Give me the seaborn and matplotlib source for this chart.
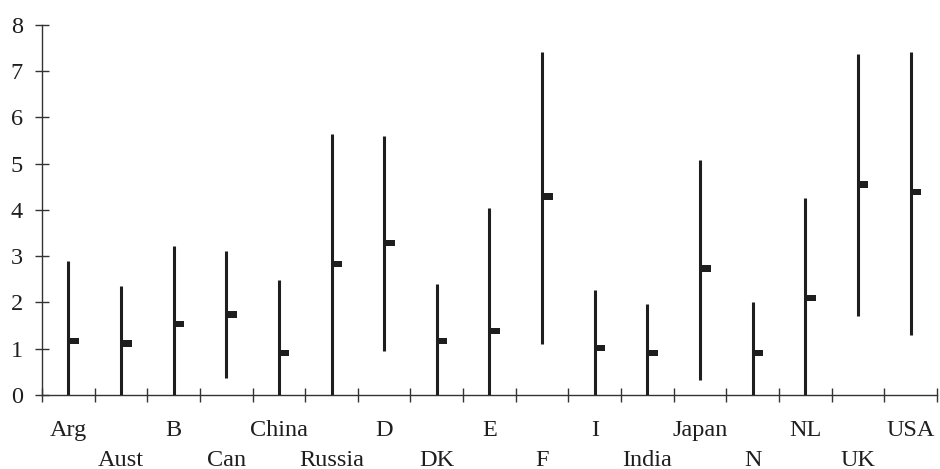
import numpy as np
import pandas as pd
import seaborn as sns
import matplotlib
matplotlib.use('Agg')
import matplotlib.pyplot as plt
from matplotlib.path import Path

# Data
countries = ['Arg', 'Aust', 'B', 'Can', 'China', 'Russia', 'D', 'DK', 'E',
             'F', 'I', 'India', 'Japan', 'N', 'NL', 'UK', 'USA']
high = [2.89, 2.36, 3.21, 3.11, 2.48, 5.64, 5.59, 2.39, 4.04,
        7.41, 2.27, 1.96, 5.07, 2.00, 4.25, 7.37, 7.41]
low = [0.0, 0.0, 0.0, 0.37, 0.0, 0.0, 0.94, 0.0, 0.0,
       1.09, 0.0, 0.0, 0.32, 0.0, 0.0, 1.71, 1.30]
close = [1.17, 1.11, 1.54, 1.74, 0.91, 2.83, 3.29, 1.17, 1.38,
         4.29, 1.01, 0.91, 2.73, 0.91, 2.10, 4.55, 4.38]
yticks = [0, 1, 2, 3, 4, 5, 6, 7, 8]

df = pd.DataFrame({'country': countries, 'high': high, 'low': low, 'close': close})

sns.set_style('white')
plt.rcParams['font.family'] = ['Liberation Serif', 'DejaVu Serif']

fig = plt.figure(figsize=(9.4, 4.69), dpi=100)
ax = fig.add_axes([0.0447, 0.158, 0.952, 0.789])

ink = '#1e1e1e'
pos = np.arange(len(df))

# high-low lines
ax.vlines(pos, df['low'], df['high'], color=ink, linewidth=2.2, zorder=3)

# close marker: a small dash sticking out to the right of the line
dash = Path([(0, -0.3), (1, -0.3), (1, 0.3), (0, 0.3), (0, -0.3)],
            [Path.MOVETO, Path.LINETO, Path.LINETO, Path.LINETO, Path.CLOSEPOLY])
sns.scatterplot(data=df, x='country', y='close', marker=dash, s=230,
                color=ink, edgecolor='none', linewidth=0, ax=ax, zorder=4)

ax.set_xlim(-0.5, len(df) - 0.5)
ax.set_ylim(0, 8)
ax.set_yticks(yticks)
ax.set_xlabel('')
ax.set_ylabel('')

# boundary ticks only; country names staggered in two rows below
ax.set_xticks(np.arange(-0.5, len(df), 1.0))
ax.set_xticklabels([])
ax.tick_params(axis='x', bottom=True, direction='inout', length=10,
               width=1, color='#333333')
ax.tick_params(axis='y', left=True, direction='inout', length=9.5, width=1,
               color='#333333', labelsize=17.5, pad=9)

xt = ax.get_xaxis_transform()
for i, c in enumerate(countries):
    y = -0.095 if i % 2 == 0 else -0.176
    ax.text(i, y, c, transform=xt, ha='center', va='center',
            fontsize=17.5, color=ink)

for side in ['top', 'right']:
    ax.spines[side].set_visible(False)
for side in ['left', 'bottom']:
    ax.spines[side].set_color('#333333')
    ax.spines[side].set_linewidth(1)

for t in ax.get_yticklabels():
    t.set_color(ink)

plt.savefig('out.png', dpi=100)
plt.close()
